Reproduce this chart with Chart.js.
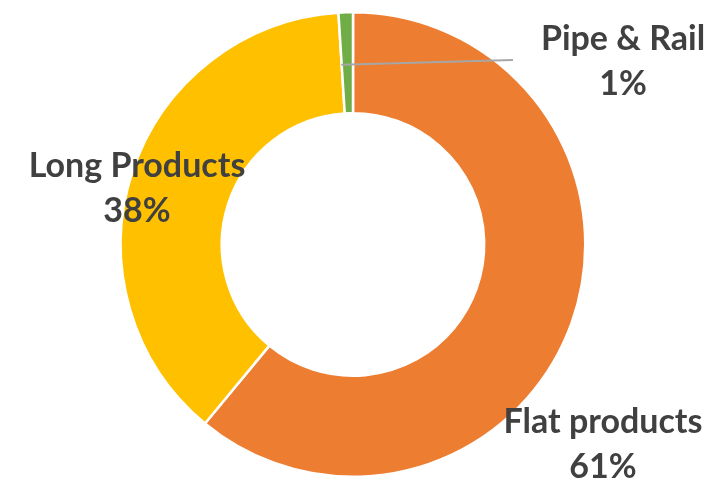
<!DOCTYPE html>
<html>
<head>
<meta charset="utf-8">
<script src="https://cdn.jsdelivr.net/npm/chart.js@4.4.0/dist/chart.umd.min.js"></script>
<style>
  html, body { margin: 0; padding: 0; background: #ffffff; }
  #wrap { width: 717px; height: 481px; }
</style>
</head>
<body>
<div id="wrap"><canvas id="mixChart" width="717" height="481"></canvas></div>
<script>
// Product mix (share of shipments, %)
const categories = ["Flat products", "Long Products", "Pipe & Rail"];
const shares = [61, 38, 1];
const sliceColors = ["#ED7D31", "#FFC000", "#70AD47"];

// where each data label sits (centre x, first baseline)
const labelSpots = [
  { x: 603, y: 433 },
  { x: 137, y: 177 },
  { x: 623, y: 50, leaderTo: { x: 513, y: 60 } },
];

const labelPlugin = {
  id: "sliceLabels",
  afterDraw(chart) {
    const ctx = chart.ctx;
    const arcs = chart.getDatasetMeta(0).data;
    ctx.save();
    ctx.font = "bold 34px Lato";
    ctx.textAlign = "center";
    ctx.textBaseline = "alphabetic";
    arcs.forEach((arc, i) => {
      const spot = labelSpots[i];
      if (spot.leaderTo) {
        // leader line from the middle of the thin slice
        const p = arc.tooltipPosition();
        ctx.strokeStyle = "#A6A6A6";
        ctx.lineWidth = 2;
        ctx.beginPath();
        ctx.moveTo(p.x - 6, p.y + 2);
        ctx.lineTo(spot.leaderTo.x, spot.leaderTo.y);
        ctx.stroke();
      }
      ctx.fillStyle = "#404040";
      ctx.fillText(categories[i], spot.x, spot.y);
      ctx.fillText(shares[i] + "%", spot.x, spot.y + 45);
    });
    ctx.restore();
  },
};

const mixCtx = document.getElementById("mixChart").getContext("2d");

const mixChart = new Chart(mixCtx, {
  type: "doughnut",
  data: {
    labels: categories,
    datasets: [
      {
        data: shares,
        backgroundColor: sliceColors,
        borderColor: "#ffffff",
        borderWidth: 2.5,
        hoverOffset: 0,
      },
    ],
  },
  options: {
    responsive: false,
    animation: false,
    cutout: "56.5%",
    layout: {
      padding: { top: 11, bottom: 3, left: 0, right: 11 },
    },
    plugins: {
      legend: { display: false },
      tooltip: { enabled: false },
    },
  },
  plugins: [labelPlugin],
});
</script>
</body>
</html>
